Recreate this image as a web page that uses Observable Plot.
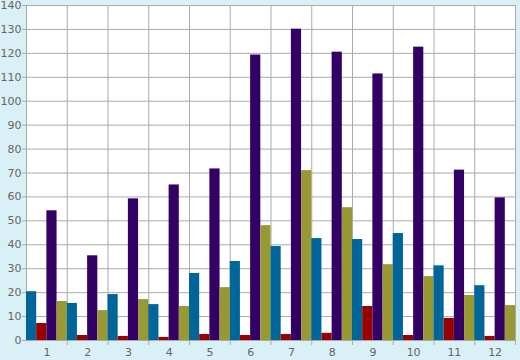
<!DOCTYPE html>
<html>
<head>
<meta charset="utf-8">
<script src="https://cdn.jsdelivr.net/npm/d3@7"></script>
<script src="https://cdn.jsdelivr.net/npm/@observablehq/plot@0.6"></script>
<style>
  html, body { margin: 0; padding: 0; background: #daf0f7; }
  #chart { width: 520px; height: 360px; }
</style>
</head>
<body>
<div id="chart"></div>
<script>
const months = ["1","2","3","4","5","6","7","8","9","10","11","12"];
const seriesNames = ["A","B","C","D"];
const seriesColors = ["#006699","#990000","#330066","#999933"];
const valuesA = [20.4, 15.5, 19.2, 15.0, 28.0, 33.0, 39.3, 42.6, 42.2, 44.7, 31.2, 22.9];
const valuesB = [7.1, 2.1, 1.7, 1.3, 2.5, 2.1, 2.5, 3.0, 14.2, 2.1, 9.2, 1.7];
const valuesC = [54.2, 35.4, 59.2, 65.0, 71.7, 119.3, 130.1, 120.5, 111.4, 122.6, 71.2, 59.6];
const valuesD = [16.3, 12.5, 17.1, 14.2, 22.1, 48.0, 71.0, 55.5, 31.7, 26.7, 18.8, 14.6];
const yTicks = [0,10,20,30,40,50,60,70,80,90,100,110,120,130,140];

const seriesValues = [valuesA, valuesB, valuesC, valuesD];
const data = months.flatMap((m, i) => seriesNames.map((s, j) => ({month: m, series: s, value: seriesValues[j][i]})));

const W = 520, H = 360, ML = 26, MR = 5, MT = 5, MB = 20;
const band = (W - ML - MR) / months.length;

const chart = Plot.plot({
  width: W, height: H,
  marginLeft: ML, marginRight: MR, marginTop: MT, marginBottom: MB,
  style: {background: "transparent", fontFamily: "DejaVu Sans", fontSize: "11px", color: "#666"},
  fx: {domain: months, padding: 0, round: false, label: null, axis: null},
  x: {domain: seriesNames, padding: 0, round: false, axis: null},
  y: {domain: [0, 140], axis: null},
  color: {domain: seriesNames, range: seriesColors},
  marks: [
    Plot.frame({facet: "super", fill: "white"}),
    Plot.gridY(yTicks, {stroke: "#aaa", strokeOpacity: 1}),
    Plot.frame({anchor: "left", stroke: "#aaa", strokeOpacity: 1}),
    Plot.frame({facet: "super", stroke: "#aaa", strokeOpacity: 1}),
    Plot.barY(data, {fx: "month", x: "series", y: "value", fill: "series", inset: 0}),
    Plot.axisY(yTicks, {tickSize: 4, tickPadding: 1, stroke: "#aaa", fill: "#666", fontSize: 11, label: null}),
    Plot.axisFx({anchor: "bottom", tickSize: 0, tickPadding: 8, fill: "#666", fontSize: 11, label: null}),
    Plot.axisFx({anchor: "bottom", tickSize: 5, tickFormat: () => "", dx: band / 2, stroke: "#aaa", label: null})
  ]
});
document.getElementById("chart").appendChild(chart);
</script>
</body>
</html>
